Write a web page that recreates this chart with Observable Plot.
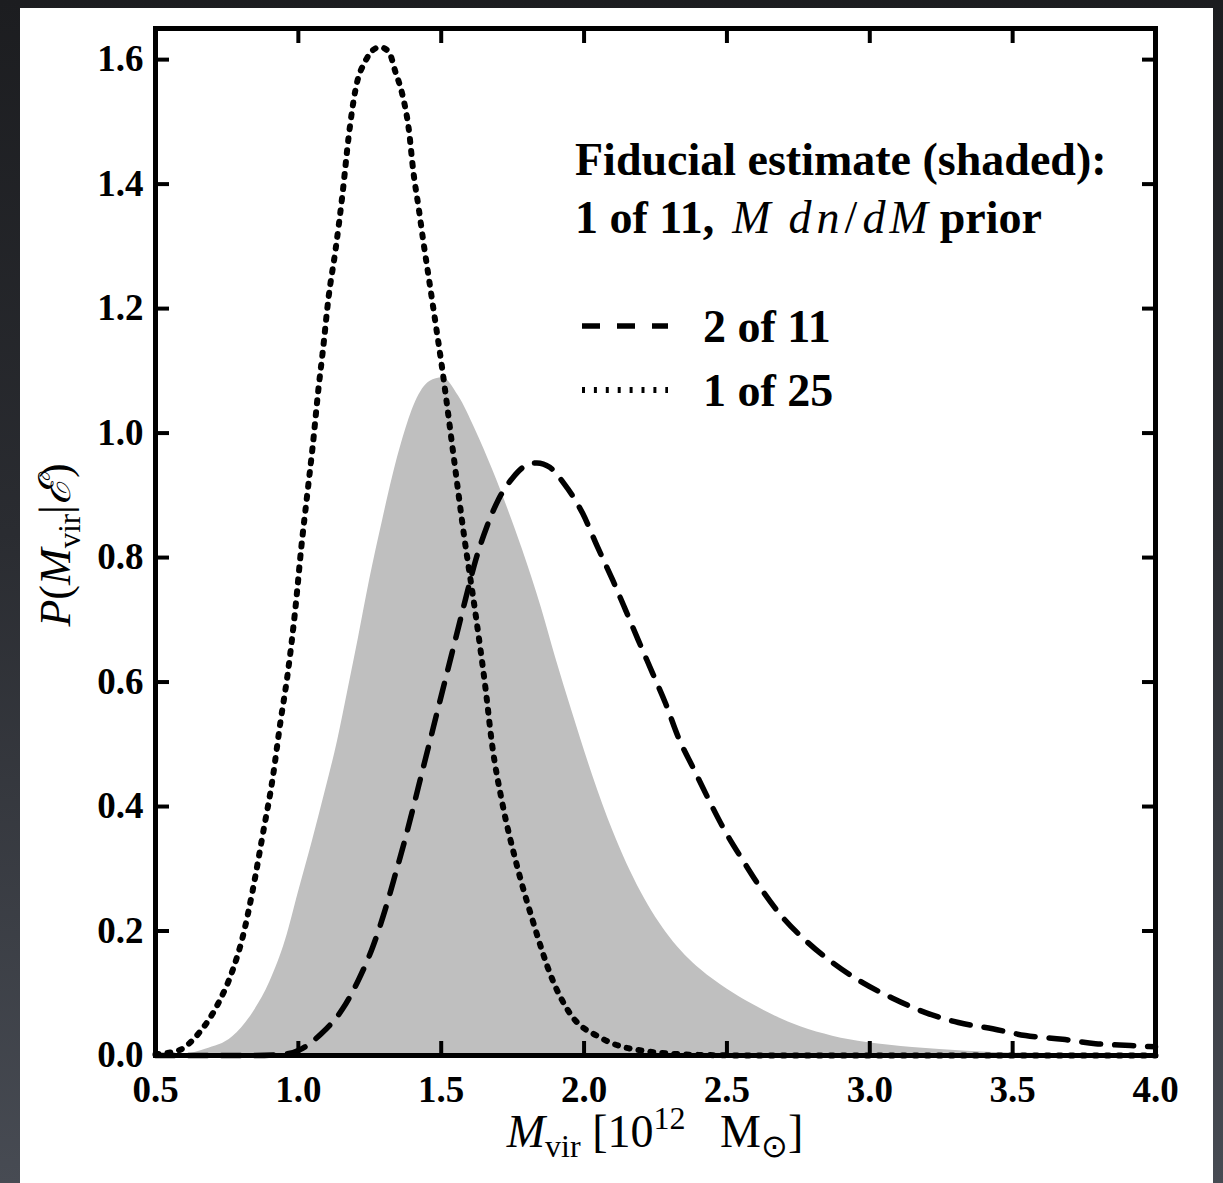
<!DOCTYPE html>
<html><head><meta charset="utf-8">
<script src="https://cdn.jsdelivr.net/npm/d3@7"></script>
<script src="https://cdn.jsdelivr.net/npm/@observablehq/plot@0.6"></script>
<style>
html,body{margin:0;padding:0;}
body{width:1223px;height:1183px;overflow:hidden;background:linear-gradient(180deg,#1c1d20 0%,#2a2c31 45%,#474b53 100%);position:relative;}
#panel{position:absolute;left:20px;top:8px;width:1193px;height:1175px;background:#fff;}
#panel svg{display:block;}
</style></head><body><div id="panel"></div>
<script>
// Fiducial estimate (shaded): 1 of 11, M dn/dM prior
const fidM = [0.5, 0.6, 0.675, 0.77, 0.84, 0.9, 0.955, 1.0, 1.05, 1.095, 1.137, 1.175, 1.21, 1.25, 1.295, 1.33, 1.365, 1.41, 1.46, 1.505, 1.56, 1.62, 1.68, 1.735, 1.785, 1.85, 1.9, 1.96, 2.03, 2.1, 2.2, 2.3, 2.408, 2.5, 2.583, 2.67, 2.758, 2.87, 2.99, 3.15, 3.34, 3.7, 4.0];
const fidP = [0.0, 0.002, 0.01, 0.03, 0.068, 0.118, 0.185, 0.262, 0.346, 0.426, 0.505, 0.59, 0.67, 0.765, 0.86, 0.93, 0.99, 1.05, 1.083, 1.089, 1.06, 1.005, 0.941, 0.876, 0.812, 0.72, 0.64, 0.55, 0.45, 0.362, 0.262, 0.19, 0.138, 0.107, 0.084, 0.063, 0.046, 0.031, 0.021, 0.013, 0.007, 0.002, 0.0005];
// 2 of 11 (dashed)
const twoM = [0.5, 0.85, 0.95, 1.0, 1.08, 1.155, 1.21, 1.26, 1.305, 1.34, 1.375, 1.403, 1.434, 1.456, 1.487, 1.515, 1.55, 1.585, 1.62, 1.66, 1.7, 1.75, 1.79, 1.835, 1.88, 1.928, 1.995, 2.047, 2.1, 2.145, 2.19, 2.24, 2.285, 2.33, 2.383, 2.432, 2.488, 2.555, 2.618, 2.695, 2.782, 2.873, 2.975, 3.08, 3.195, 3.31, 3.43, 3.545, 3.675, 3.79, 3.913, 4.0];
const twoP = [0.0, 0.0, 0.002, 0.008, 0.035, 0.075, 0.121, 0.174, 0.236, 0.292, 0.35, 0.4, 0.457, 0.497, 0.554, 0.605, 0.669, 0.733, 0.795, 0.85, 0.893, 0.928, 0.946, 0.952, 0.945, 0.92, 0.871, 0.817, 0.764, 0.716, 0.667, 0.614, 0.566, 0.511, 0.461, 0.415, 0.365, 0.314, 0.269, 0.222, 0.182, 0.148, 0.117, 0.092, 0.069, 0.053, 0.043, 0.032, 0.026, 0.019, 0.016, 0.014];
// 1 of 25 (dotted)
const oneM = [0.5, 0.58, 0.65, 0.72, 0.77, 0.805, 0.84, 0.875, 0.91, 0.937, 0.962, 0.99, 1.01, 1.032, 1.05, 1.071, 1.085, 1.106, 1.13, 1.155, 1.176, 1.2, 1.235, 1.26, 1.285, 1.316, 1.34, 1.364, 1.386, 1.403, 1.421, 1.438, 1.456, 1.48, 1.503, 1.54, 1.58, 1.62, 1.655, 1.678, 1.714, 1.76, 1.82, 1.89, 1.95, 2.06, 2.2, 2.4, 2.6, 4.0];
const oneP = [0.002, 0.008, 0.035, 0.084, 0.137, 0.19, 0.265, 0.354, 0.445, 0.535, 0.611, 0.72, 0.815, 0.905, 0.978, 1.074, 1.129, 1.219, 1.294, 1.386, 1.476, 1.552, 1.598, 1.615, 1.62, 1.613, 1.58, 1.544, 1.49, 1.418, 1.362, 1.306, 1.251, 1.177, 1.105, 0.975, 0.835, 0.71, 0.59, 0.5, 0.405, 0.314, 0.217, 0.121, 0.068, 0.028, 0.008, 0.001, 0.0, 0.0];

const xTicks = [0.5, 1.0, 1.5, 2.0, 2.5, 3.0, 3.5, 4.0];
const yTicks = [0.0, 0.2, 0.4, 0.6, 0.8, 1.0, 1.2, 1.4, 1.6];
const legendTitle = "Fiducial estimate (shaded):";
const legendLabels = ["2 of 11", "1 of 25"];

const fid = fidM.map((m, i) => ({m, p: fidP[i]}));
const two = twoM.map((m, i) => ({m, p: twoP[i]}));
const one = oneM.map((m, i) => ({m, p: oneP[i]}));

const FONT = "'Liberation Serif','Times New Roman',serif";
const W = 1193, H = 1175;
const fmt = d => d.toFixed(1);
const blank = () => "";
const DOT = "3,9", DASH = "19,14";

const chart = Plot.plot({
  width: W, height: H,
  marginLeft: 135, marginRight: 58, marginTop: 20, marginBottom: 128,
  x: {domain: [0.5, 4]},
  y: {domain: [0, 1.65]},
  style: {fontFamily: FONT, fontSize: "37px", fontWeight: "bold", color: "#000", background: "transparent"},
  marks: [
    Plot.areaY(fid, {x: "m", y: "p", fill: "#bfbfbf", curve: "monotone-x"}),
    Plot.line(one, {x: "m", y: "p", stroke: "#000", strokeWidth: 6, strokeDasharray: DOT, curve: "monotone-x"}),
    Plot.line(two, {x: "m", y: "p", stroke: "#000", strokeWidth: 5.5, strokeDasharray: DASH, curve: "monotone-x"}),
    Plot.axisX(xTicks, {anchor: "bottom", tickSize: -14, tickPadding: 34, strokeWidth: 4, tickFormat: fmt, label: null}),
    Plot.axisX(xTicks, {anchor: "top", tickSize: -14, strokeWidth: 4, tickFormat: blank, label: null}),
    Plot.axisY(yTicks, {anchor: "left", tickSize: -14, tickPadding: 26, strokeWidth: 4, tickFormat: fmt, label: null}),
    Plot.axisY(yTicks, {anchor: "right", tickSize: -14, strokeWidth: 4, tickFormat: blank, label: null}),
    Plot.frame({stroke: "#000", strokeWidth: 5})
  ]
});
document.getElementById("panel").appendChild(chart);

const svg = d3.select(chart);
const ox = 20, oy = 8; // panel offset in page
const g = svg.append("g").attr("font-family", FONT).attr("fill", "#000")
  .attr("font-weight", "normal").attr("text-anchor", "start");

// Legend
g.append("text").attr("x", 575 - ox).attr("y", 175 - oy).attr("font-size", 46).attr("font-weight", "bold").text(legendTitle);
const l2 = g.append("text").attr("x", 575 - ox).attr("y", 233 - oy).attr("font-size", 46);
l2.append("tspan").attr("font-weight", "bold").text("1 of 11,");
l2.append("tspan").attr("font-style", "italic").attr("dx", 18).text("M");
l2.append("tspan").attr("font-style", "italic").attr("dx", 18).attr("letter-spacing", 5).text("dn");
l2.append("tspan").attr("letter-spacing", 5).text("/");
l2.append("tspan").attr("font-style", "italic").attr("letter-spacing", 4).text("dM");
l2.append("tspan").attr("font-weight", "bold").attr("dx", 8).text("prior");

g.append("line").attr("x1", 582 - ox).attr("x2", 668 - ox).attr("y1", 326 - oy).attr("y2", 326 - oy)
  .attr("stroke", "#000").attr("stroke-width", 5.5).attr("stroke-dasharray", "18,17");
g.append("line").attr("x1", 582 - ox).attr("x2", 668 - ox).attr("y1", 390 - oy).attr("y2", 390 - oy)
  .attr("stroke", "#000").attr("stroke-width", 6).attr("stroke-dasharray", "3,8.9");
g.append("text").attr("x", 703 - ox).attr("y", 342 - oy).attr("font-size", 46).attr("font-weight", "bold").text(legendLabels[0]);
g.append("text").attr("x", 703 - ox).attr("y", 406 - oy).attr("font-size", 46).attr("font-weight", "bold").text(legendLabels[1]);

// X label: M_vir [10^12 M_sun]
const xl = g.append("text").attr("x", 655 - ox).attr("y", 1147 - oy).attr("font-size", 46).attr("text-anchor", "middle");
xl.append("tspan").attr("font-style", "italic").text("M");
xl.append("tspan").attr("font-size", 32).attr("dy", 10).text("vir");
xl.append("tspan").attr("dy", -10).text(" [10");
xl.append("tspan").attr("font-size", 32).attr("dy", -18).text("12");
xl.append("tspan").attr("dy", 18).text("\u2002 M");
xl.append("tspan").attr("font-size", 32).attr("dy", 10).text("\u2299");
xl.append("tspan").attr("dy", -10).text("]");

// Y label: P(M_vir|E)
const yl = g.append("text").attr("transform", `translate(${70 - ox},${545 - oy}) rotate(-90)`).attr("font-size", 44).attr("text-anchor", "middle");
yl.append("tspan").attr("font-style", "italic").text("P");
yl.append("tspan").text("(");
yl.append("tspan").attr("font-style", "italic").text("M");
yl.append("tspan").attr("font-size", 31).attr("dy", 10).text("vir");
yl.append("tspan").attr("dy", -10).text("|");
yl.append("tspan").attr("font-style", "italic").text("\u2130");
yl.append("tspan").text(")");
</script>
</body></html>
